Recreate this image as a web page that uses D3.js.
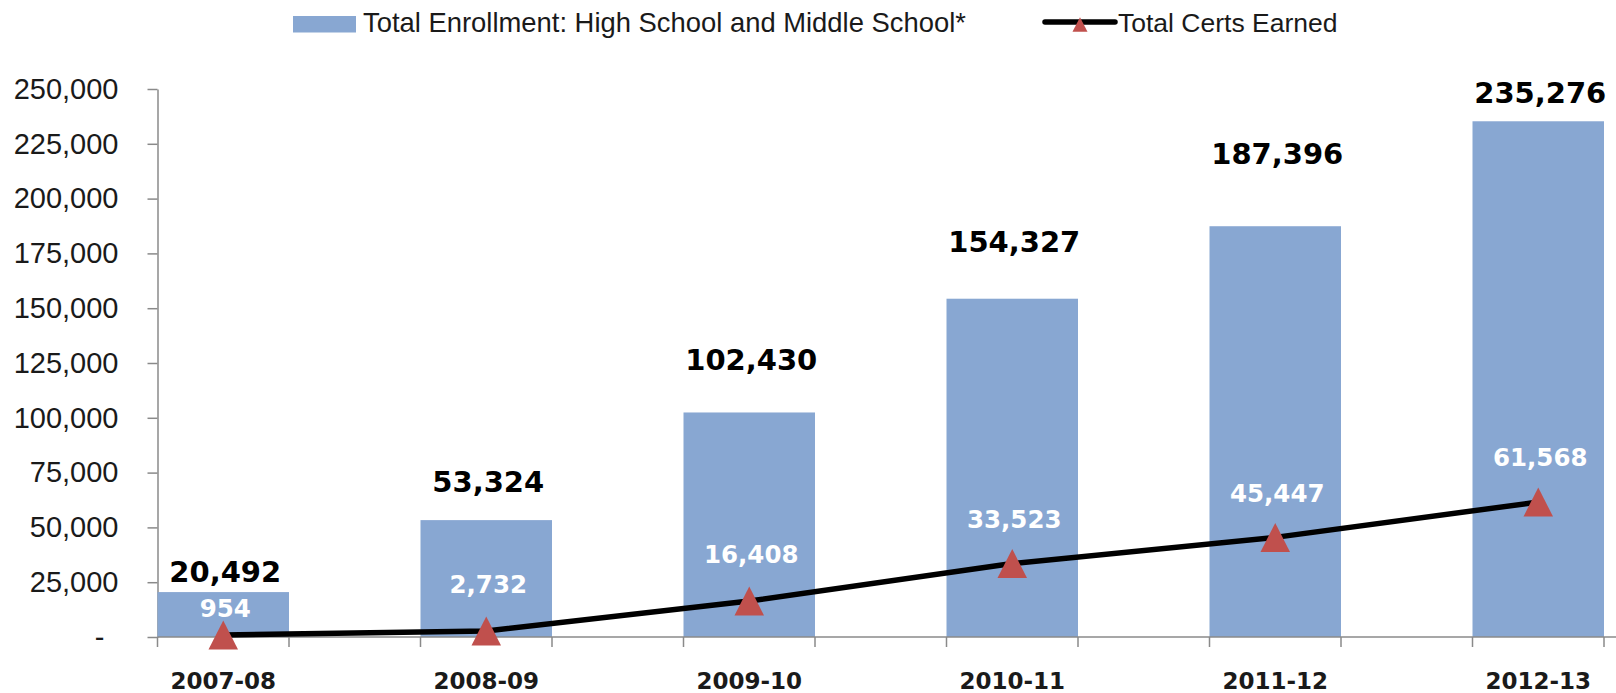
<!DOCTYPE html>
<html><head><meta charset="utf-8">
<script src="https://cdn.jsdelivr.net/npm/d3@7/dist/d3.min.js"></script>
<style>body{margin:0;background:#fff} svg{display:block}</style>
</head><body>
<svg id="chart" width="1616" height="693"></svg>
<script>
// ---- data ----
const categories = ["2007-08", "2008-09", "2009-10", "2010-11", "2011-12", "2012-13"];
const enrollment = [20492, 53324, 102430, 154327, 187396, 235276];
const certs = [954, 2732, 16408, 33523, 45447, 61568];
const yTickValues = [0, 25000, 50000, 75000, 100000, 125000, 150000, 175000, 200000, 225000, 250000];
const seriesNames = ["Total Enrollment: High School and Middle School*", "Total Certs Earned"];

// manual label placement (pixels above the mark), as in the original
const enrollLabelGap = [10, 28, 42, 47, 62, 18];
const certLabelGap = [18, 38, 38, 36, 35, 36];

// ---- styles ----
const barColor = "#88a7d2";
const markerColor = "#c0504d";
const axisColor = "#8a8a8a";
const textColor = "#1a1a1a";

const svg = d3.select("#chart");
const W = 1616;

const x = d3.scaleBand().domain(categories).range([157.5, 1604]).paddingInner(0.5).paddingOuter(0);
const y = d3.scaleLinear().domain([0, 250000]).range([637, 89]);
const fmt = d3.format(",");

// y axis
const yAxis = svg.append("g").attr("transform", `translate(${x.range()[0]},0)`)
  .call(d3.axisLeft(y).tickValues(yTickValues).tickSize(10).tickSizeOuter(0).tickPadding(29)
    .tickFormat(d => d === 0 ? "-" : fmt(d)));
yAxis.selectAll("path,line").attr("stroke", axisColor).attr("stroke-width", 1.5);
yAxis.selectAll("text").attr("font-family", "Liberation Sans, Arial, sans-serif")
  .attr("font-size", 29).attr("fill", textColor);
yAxis.selectAll(".tick").filter(d => d === 0).select("text").attr("dx", -14);

// bars
svg.append("g").selectAll("rect").data(categories).join("rect")
  .attr("x", d => x(d)).attr("width", x.bandwidth())
  .attr("y", (d, i) => y(enrollment[i]))
  .attr("height", (d, i) => y(0) - y(enrollment[i]))
  .attr("fill", barColor);

// x axis line + ticks at bar edges
svg.append("line").attr("x1", x.range()[0]).attr("x2", W)
  .attr("y1", y(0)).attr("y2", y(0)).attr("stroke", axisColor).attr("stroke-width", 1.5);
const edges = [];
categories.forEach(c => { edges.push(x(c)); edges.push(x(c) + x.bandwidth()); });
svg.append("g").selectAll("line").data(edges).join("line")
  .attr("x1", d => d).attr("x2", d => d).attr("y1", y(0)).attr("y2", y(0) + 10)
  .attr("stroke", axisColor).attr("stroke-width", 1.5);

// category labels
svg.append("g").selectAll("text").data(categories).join("text")
  .attr("x", d => x(d) + x.bandwidth() / 2).attr("y", 689)
  .attr("text-anchor", "middle")
  .attr("font-family", "DejaVu Sans, sans-serif").attr("font-weight", "bold")
  .attr("font-size", 23).attr("fill", textColor).text(d => d);

// enrollment value labels
svg.append("g").selectAll("text").data(categories).join("text")
  .attr("x", d => x(d) + x.bandwidth() / 2 + 2)
  .attr("y", (d, i) => y(enrollment[i]) - enrollLabelGap[i])
  .attr("text-anchor", "middle")
  .attr("font-family", "DejaVu Sans, sans-serif").attr("font-weight", "bold")
  .attr("font-size", 29).attr("fill", "#000").text((d, i) => fmt(enrollment[i]));

// certs line
const cx = d => x(d) + x.bandwidth() / 2;
const line = d3.line().x((d, i) => cx(categories[i])).y(d => y(d));
svg.append("path").datum(certs).attr("d", line)
  .attr("fill", "none").attr("stroke", "#000").attr("stroke-width", 5.5).attr("stroke-linejoin", "round");

// triangles
const tri = (w, h) => `M0,${-h / 2}L${w / 2},${h / 2}L${-w / 2},${h / 2}Z`;
svg.append("g").selectAll("path").data(certs).join("path")
  .attr("transform", (d, i) => `translate(${cx(categories[i])},${y(d)})`)
  .attr("d", tri(29.5, 29)).attr("fill", markerColor);

// certs labels
svg.append("g").selectAll("text").data(certs).join("text")
  .attr("x", (d, i) => cx(categories[i]) + 2)
  .attr("y", (d, i) => y(d) - certLabelGap[i])
  .attr("text-anchor", "middle")
  .attr("font-family", "DejaVu Sans, sans-serif").attr("font-weight", "bold")
  .attr("font-size", 24.5).attr("fill", "#fff").text(d => fmt(d));

// legend
const lg = svg.append("g");
lg.append("rect").attr("x", 293).attr("y", 16).attr("width", 63).attr("height", 16.5).attr("fill", barColor);
lg.append("text").attr("x", 363).attr("y", 32)
  .attr("font-family", "Liberation Sans, Arial, sans-serif").attr("font-size", 27.4)
  .attr("fill", textColor).text(seriesNames[0]);
lg.append("line").attr("x1", 1045).attr("x2", 1115).attr("y1", 22).attr("y2", 22)
  .attr("stroke", "#000").attr("stroke-width", 5.5).attr("stroke-linecap", "round");
lg.append("path").attr("transform", "translate(1080,24.5)").attr("d", tri(15, 14.5)).attr("fill", markerColor);
lg.append("text").attr("x", 1118).attr("y", 32)
  .attr("font-family", "Liberation Sans, Arial, sans-serif").attr("font-size", 26.5)
  .attr("fill", textColor).text(seriesNames[1]);
</script>
</body></html>
